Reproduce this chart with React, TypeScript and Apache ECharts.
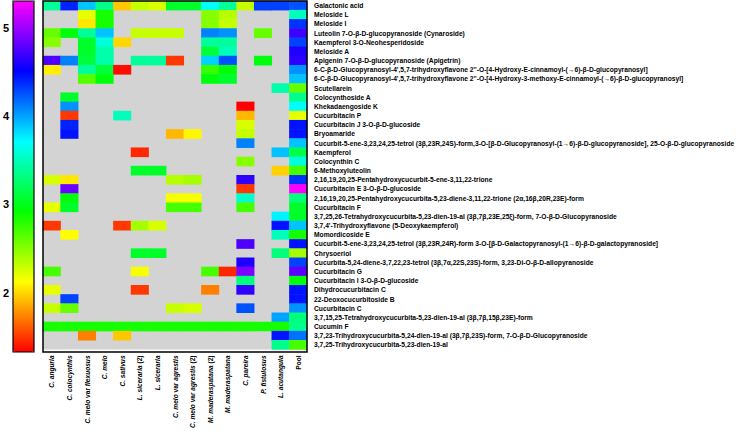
import { useEffect, useRef } from 'react';
import * as echarts from 'echarts';

const species = [
  'C. anguria', 'C. colocynthis', 'C. melo var flexuosus', 'C. melo', 'C. sativus',
  'L. siceraria (2)', 'L. siceraria', 'C. melo var agrestis', 'C. melo var agrestis (2)',
  'M. maderaspatana (2)', 'M. maderaspatana', 'C. pareira', 'P. fistulosus', 'L. acutangula', 'Pool',
];

const compounds = [
  'Galactonic acid',
  'Meloside L',
  'Meloside I',
  'Luteolin 7-O-β-D-glucopyranoside (Cynaroside)',
  'Kaempferol 3-O-Neohesperidoside',
  'Meloside A',
  'Apigenin 7-O-β-D-glucopyranoside (Apigetrin)',
  "6-C-β-D-Glucopyranosyl-4',5,7-trihydroxyflavone 2''-O-[4-Hydroxy-E-cinnamoyl-(→6)-β-D-glucopyranosyl]",
  "6-C-β-D-Glucopyranosyl-4',5,7-trihydroxyflavone 2''-O-[4-Hydroxy-3-methoxy-E-cinnamoyl-(→6)-β-D-glucopyranosyl]",
  'Scutellarein',
  'Colocynthoside A',
  'Khekadaengoside K',
  'Cucurbitacin P',
  'Cucurbitacin J 3-O-β-D-glucoside',
  'Bryoamaride',
  'Cucurbit-5-ene-3,23,24,25-tetrol (3β,23R,24S)-form,3-O-[β-D-Glucopyranosyl-(1→6)-β-D-glucopyranoside], 25-O-β-D-glucopyranoside',
  'Kaempferol',
  'Colocynthin C',
  '6-Methoxyluteolin',
  '2,16,19,20,25-Pentahydroxycucurbit-5-ene-3,11,22-trione',
  'Cucurbitacin E 3-O-β-D-glucoside',
  '2,16,19,20,25-Pentahydroxycucurbita-5,23-diene-3,11,22-trione (2α,16β,20R,23E)-form',
  'Cucurbitacin F',
  '3,7,25,26-Tetrahydroxycucurbita-5,23-dien-19-al (3β,7β,23E,25ξ)-form, 7-O-β-D-Glucopyranoside',
  "3,7,4'-Trihydroxyflavone (5-Deoxykaempferol)",
  'Momordicoside E',
  'Cucurbit-5-ene-3,23,24,25-tetrol (3β,23R,24R)-form 3-O-[β-D-Galactopyranosyl-(1→6)-β-D-galactopyranoside]',
  'Chrysoeriol',
  'Cucurbita-5,24-diene-3,7,22,23-tetrol (3β,7α,22S,23S)-form, 3,23-Di-O-β-D-allopyranoside',
  'Cucurbitacin G',
  'Cucurbitacin I 3-O-β-D-glucoside',
  'Dihydrocucurbitacin C',
  '22-Deoxocucurbitoside B',
  'Cucurbitacin C',
  '3,7,15,25-Tetrahydroxycucurbita-5,23-dien-19-al (3β,7β,15β,23E)-form',
  'Cucumin F',
  '3,7,23-Trihydroxycucurbita-5,24-dien-19-al (3β,7β,23S)-form, 7-O-β-D-Glucopyranoside',
  '3,7,25-Trihydroxycucurbita-5,23-dien-19-al',
];

const _ = null;
// one row per compound, one column per species (log-scaled abundance)
const cellValues: (number | null)[][] = [
  [3.4, 4.4, 3.9, 3.35, 1.95, 2.3, 2.25, 3.05, 3.05, 3.7, 3.4, 2.3, 4.3, 4.3, 4.25],
  [_, _, 2.2, 2.85, _, _, _, _, _, 2.5, 2.35, _, _, _, 3.5],
  [_, _, 2.05, 2.85, _, _, _, _, _, 2.5, 2.3, _, _, _, 4.35],
  [2.6, 2.95, 3.4, 3.9, _, 2.3, 2.3, 2.3, _, 4.1, 4.05, _, 2.6, _, 4.7],
  [2.5, _, 3.05, 3.6, 2.0, _, _, _, _, 3.4, 3.4, _, _, _, 4.3],
  [_, _, 3.05, 3.45, _, _, _, _, _, 3.1, 3.5, _, _, _, 4.6],
  [4.75, 4.1, 3.1, 3.45, _, 3.4, 3.4, 1.5, _, 3.85, 4.25, _, 2.95, _, 4.65],
  [2.07, _, 3.4, 3.1, 1.37, _, _, _, _, 2.75, 2.95, _, _, _, 4.05],
  [_, _, 2.65, 2.95, _, _, _, _, _, 2.95, 3.05, _, _, _, 3.9],
  [_, _, _, _, _, _, _, _, _, _, _, _, _, 3.45, 2.6],
  [_, 3.05, _, _, _, _, _, _, _, _, _, _, _, _, 3.35],
  [_, 4.05, _, _, _, _, _, _, _, _, _, 1.33, _, _, 3.7],
  [_, 1.5, _, _, 3.5, _, _, _, _, _, _, 1.9, _, _, 2.2],
  [_, 4.4, _, _, _, _, _, _, _, _, _, 2.25, _, _, 4.45],
  [_, 4.45, _, _, _, _, _, 1.9, 2.1, _, _, 2.3, _, _, 4.45],
  [_, _, _, _, _, _, _, _, _, _, _, 4.1, _, _, 3.9],
  [_, _, _, _, _, 1.45, _, _, _, _, _, _, _, 3.9, 3.15],
  [_, _, _, _, _, _, _, _, _, _, _, 2.5, _, _, 3.6],
  [_, _, _, _, _, 3.05, 3.05, _, _, _, _, _, _, 1.98, 2.7],
  [2.25, 2.05, _, _, _, _, _, 2.35, 2.4, _, _, 4.65, _, _, 4.35],
  [_, 4.85, _, _, _, _, _, _, _, _, _, 1.5, _, _, 5.3],
  [_, 2.95, _, _, _, _, _, 2.15, 2.15, _, _, 3.55, _, _, 3.3],
  [2.2, 3.05, _, _, _, _, _, 2.7, 2.7, _, _, 2.7, _, _, 3.05],
  [_, _, _, _, _, _, _, _, _, _, _, _, _, 3.75, 3.05],
  [1.5, _, _, _, 1.5, 2.4, 2.25, _, _, _, _, _, _, 4.45, 3.9],
  [_, 2.12, _, _, _, _, _, _, _, _, _, _, _, 3.5, 2.85],
  [_, _, _, _, _, _, _, _, _, _, _, 4.75, _, _, 4.45],
  [_, _, _, _, _, 3.05, 3.05, _, _, _, _, _, _, 3.3, 2.4],
  [_, _, _, _, _, _, _, _, _, _, _, 4.6, _, _, 4.3],
  [2.7, _, _, _, _, 2.15, _, _, _, 2.7, 1.45, 4.9, _, _, 4.8],
  [_, _, _, _, _, _, _, _, _, _, _, 3.3, _, _, 2.95],
  [2.2, _, _, _, _, 1.5, _, _, _, 1.73, _, 4.65, _, _, 4.45],
  [_, 4.3, _, _, _, _, _, _, _, _, _, _, _, _, 4.45],
  [2.3, 2.6, _, _, _, _, _, 2.3, 2.25, _, _, 4.25, _, _, 4.05],
  [_, _, _, _, _, _, _, _, _, _, _, _, _, 4.0, 3.3],
  [2.85, 2.85, 2.85, 2.85, 2.85, 2.85, 2.85, 2.85, 2.85, 2.85, 2.85, 2.85, 2.85, 2.85, 3.35],
  [_, _, 1.73, _, 1.95, _, _, _, _, _, _, _, _, 4.45, 4.15],
  [_, _, _, _, _, _, _, _, _, _, _, _, _, 3.35, 2.7],
];

const scaleMin = 1.33;
const scaleMax = 5.3;
const scaleTicks = [2, 3, 4, 5];
const rainbow = ['#ff0000', '#ffff00', '#00ff00', '#00ffff', '#0000ff', '#ff00ff'];

const FONT = '"Liberation Sans", Arial, sans-serif';

function speciesLabel(name: string): string {
  if (name === 'Pool') return '{n|Pool}';
  const m = name.match(/^(\S+ \S+)( var )?(\S+)?( \(2\))?$/);
  if (!m) return `{i|${name}}`;
  let s = `{i|${m[1]}}`;
  if (m[2]) s += `{n| var }{i|${m[3]}}`;
  if (m[4]) s += `{n|${m[4]}}`;
  return s;
}

export default function App() {
  const ref = useRef<HTMLDivElement>(null);
  useEffect(() => {
    if (!ref.current) return;
    const chart = echarts.init(ref.current, undefined, { renderer: 'svg' });
    const data: [number, number, number][] = [];
    cellValues.forEach((row, r) =>
      row.forEach((v, c) => {
        if (v !== null) data.push([c, r, v]);
      })
    );
    const plot = { left: 43, top: 1, width: 264, height: 351 };
    const bar = { left: 13, top: 1, width: 21, height: 351 };
    const xl = { fontSize: 6.6, fontWeight: 'bold', fontFamily: FONT, color: '#000' };
    chart.setOption({
      animation: false,
      backgroundColor: '#ffffff',
      textStyle: { fontFamily: FONT },
      grid: [
        { ...plot, show: true, backgroundColor: '#d3d3d3', borderWidth: 0 },
        { ...bar, show: false },
        { ...plot, show: true, backgroundColor: 'transparent', borderColor: '#000', borderWidth: 1.5, z: 10 },
        { ...bar, show: true, backgroundColor: 'transparent', borderColor: '#000', borderWidth: 1.2, z: 10 },
      ],
      xAxis: [
        {
          gridIndex: 0,
          type: 'category',
          data: species,
          position: 'bottom',
          axisLine: { show: false },
          axisTick: { show: false },
          splitLine: { show: false },
          axisLabel: {
            interval: 0,
            rotate: 90,
            margin: 6,
            ...xl,
            formatter: (v: string) => speciesLabel(v),
            rich: {
              i: { ...xl, fontStyle: 'italic' },
              n: { ...xl },
            },
          },
        },
        { gridIndex: 1, type: 'value', show: false },
        { gridIndex: 2, type: 'value', show: false },
        { gridIndex: 3, type: 'value', show: false },
      ],
      yAxis: [
        {
          gridIndex: 0,
          type: 'category',
          data: compounds,
          inverse: true,
          position: 'right',
          axisLine: { show: false },
          axisTick: { show: false },
          splitLine: { show: false },
          axisLabel: { interval: 0, margin: 7, color: '#000', fontSize: 6.7, fontWeight: 'bold', fontFamily: FONT },
        },
        {
          gridIndex: 1,
          type: 'value',
          min: scaleMin,
          max: scaleMax,
          position: 'left',
          axisLine: { show: false },
          splitLine: { show: false },
          axisTick: { show: true, inside: true, length: 3, customValues: scaleTicks, lineStyle: { color: '#000' } },
          axisLabel: {
            customValues: scaleTicks,
            margin: 4,
            color: '#000',
            fontSize: 11,
            fontWeight: 'bold',
            fontFamily: FONT,
          },
        },
        {
          gridIndex: 1,
          type: 'value',
          min: scaleMin,
          max: scaleMax,
          position: 'right',
          axisLine: { show: false },
          splitLine: { show: false },
          axisTick: { show: true, inside: true, length: 3, customValues: scaleTicks, lineStyle: { color: '#000' } },
          axisLabel: { show: false },
        },
        { gridIndex: 2, type: 'value', show: false },
        { gridIndex: 3, type: 'value', show: false },
      ],
      visualMap: {
        type: 'continuous',
        min: scaleMin,
        max: scaleMax,
        seriesIndex: 0,
        dimension: 2,
        show: true,
        calculable: false,
        hoverLink: false,
        orient: 'vertical',
        left: bar.left,
        top: bar.top,
        itemWidth: bar.width,
        itemHeight: bar.height,
        padding: 0,
        inRange: { color: rainbow },
      },
      series: [
        {
          type: 'heatmap',
          xAxisIndex: 0,
          yAxisIndex: 0,
          data,
          itemStyle: { borderWidth: 0 },
          emphasis: { disabled: true },
        },
      ],
    });
    return () => chart.dispose();
  }, []);
  return (
    <div
      ref={ref}
      style={{ position: 'absolute', left: 0, top: 0, width: 746, height: 431, background: '#fff' }}
    />
  );
}
